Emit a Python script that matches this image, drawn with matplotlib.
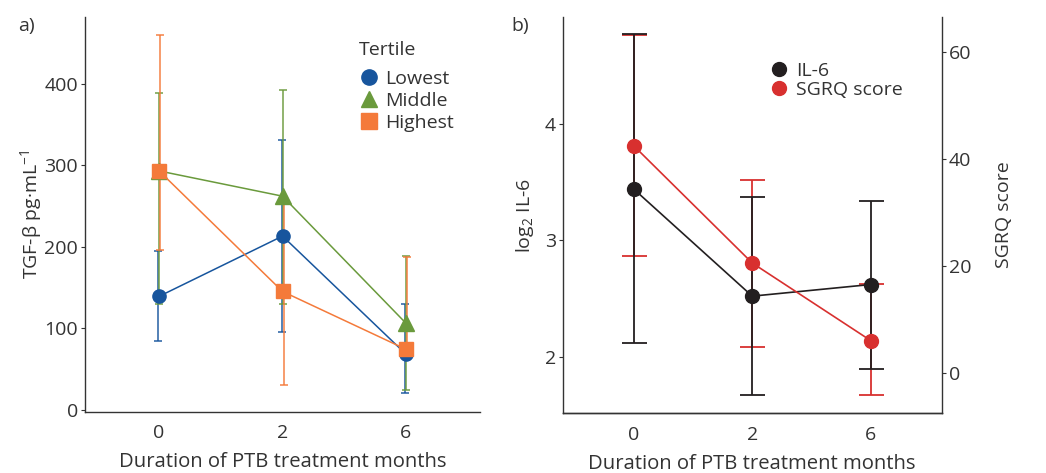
import matplotlib
matplotlib.use("Agg")
import matplotlib.pyplot as plt
import numpy as np
from matplotlib.lines import Line2D

plt.rcParams['font.family'] = ['Open Sans', 'DejaVu Sans']
plt.rcParams['mathtext.fontset'] = 'custom'
plt.rcParams['mathtext.rm'] = 'Open Sans'
plt.rcParams['mathtext.default'] = 'regular'

# ---------------- data ----------------
months = ["0", "2", "6"]

# Panel a: TGF-beta by tertile (mean, lower bound, upper bound)
lowest_mean = [139, 213, 68]
lowest_low = [84, 95, 20]
lowest_high = [195, 331, 130]

middle_mean = [293, 262, 106]
middle_low = [129, 130, 24]
middle_high = [389, 393, 188]

highest_mean = [293, 145, 74]
highest_low = [196, 30, 74]
highest_high = [460, 260, 187]

# Panel b: IL-6 (log2) and SGRQ score (mean, lower, upper)
il6_mean = [3.44, 2.52, 2.62]
il6_low = [2.12, 1.67, 1.89]
il6_high = [4.77, 3.37, 3.34]

sgrq_mean = [42.5, 20.6, 6.1]
sgrq_low = [22.0, 4.9, -4.1]
sgrq_high = [63.3, 36.1, 16.6]

# ---------------- styling ----------------
C_BLUE = "#17559d"
C_GREEN = "#6a9a3c"
C_ORANGE = "#f47a3a"
C_BLACK = "#231f20"
C_RED = "#d8302f"
AX_COL = "#333333"
FS = 14

fig = plt.figure(figsize=(10.46, 4.73), dpi=100)
axa = fig.add_axes([0.0813, 0.129, 0.3776, 0.835])
axb = fig.add_axes([0.538, 0.1262, 0.3623, 0.838])
ax2 = axb.twinx()

x = np.arange(len(months))


def style_axis(ax, right=False):
    ax.spines['top'].set_visible(False)
    if not right:
        ax.spines['right'].set_visible(False)
    for s in ax.spines.values():
        s.set_color(AX_COL)
        s.set_linewidth(1.0)
    ax.tick_params(direction='out', length=3, width=0.8, color=AX_COL,
                   labelcolor=AX_COL, labelsize=FS, pad=2)


# ---------- panel a ----------
series_a = [
    ("Lowest", lowest_mean, lowest_low, lowest_high, C_BLUE, 'o', 9.5, -0.008),
    ("Middle", middle_mean, middle_low, middle_high, C_GREEN, '^', 11, 0.0),
    ("Highest", highest_mean, highest_low, highest_high, C_ORANGE, 's', 9.5, 0.008),
]
for i, (name, m, lo, hi, col, mk, ms, dx) in enumerate(series_a):
    m = np.array(m, float)
    yerr = [m - np.array(lo, float), np.array(hi, float) - m]
    axa.errorbar(x + dx, m, yerr=yerr, fmt='none', ecolor=col, alpha=0.8,
                 elinewidth=1.3, capsize=3, capthick=1.3, zorder=1 + i * 0.1)
    axa.plot(x, m, color=col, lw=1.1, marker=mk, ms=ms, mec=col, mfc=col,
             label=name, zorder=3 + i * 0.1)

axa.set_xlim(-0.6, 2.6)
axa.set_ylim(-3, 482)
axa.set_xticks(x)
axa.set_xticklabels(months)
axa.set_yticks([0, 100, 200, 300, 400])
style_axis(axa)
axa.tick_params(axis='x', length=0, pad=9)
axa.set_xlabel("Duration of PTB treatment months", fontsize=FS + 0.6,
               color=AX_COL, labelpad=7)
axa.set_ylabel(r"TGF-β pg·mL$^{-1}$", fontsize=FS, color=AX_COL, labelpad=0)
handles_a = [Line2D([], [], ls='none', marker='o', ms=11, color=C_BLUE),
             Line2D([], [], ls='none', marker='^', ms=12, color=C_GREEN),
             Line2D([], [], ls='none', marker='s', ms=11, color=C_ORANGE)]
leg = axa.legend(handles_a, ["Lowest", "Middle", "Highest"], title="Tertile",
                 loc='upper left', bbox_to_anchor=(0.66, 0.975),
                 frameon=False, fontsize=FS, title_fontsize=FS,
                 labelspacing=0.22, handlelength=1.0, handletextpad=0.35,
                 borderpad=0.2, alignment='left')
leg._legend_box.sep = 8
for t in leg.get_texts():
    t.set_color(AX_COL)
leg.get_title().set_color(AX_COL)
fig.text(0.017, 0.945, "a)", fontsize=FS, color=AX_COL, va='center')

# ---------- panel b ----------
axb.set_zorder(ax2.get_zorder() + 1)
axb.patch.set_visible(False)

il6_m = np.array(il6_mean, float)
sg_m = np.array(sgrq_mean, float)

# red error bars (SGRQ scale)
axb.errorbar(x, sg_m, yerr=[sg_m - np.array(sgrq_low), np.array(sgrq_high) - sg_m],
             fmt='none', ecolor=C_RED, elinewidth=1.3, capsize=9, capthick=1.3,
             transform=ax2.transData, zorder=1)
# black error bars (IL-6 scale)
axb.errorbar(x, il6_m, yerr=[il6_m - np.array(il6_low), np.array(il6_high) - il6_m],
             fmt='none', ecolor=C_BLACK, elinewidth=1.3, capsize=9, capthick=1.3,
             zorder=2)
axb.plot(x, il6_m, color=C_BLACK, lw=1.2, marker='o', ms=10, label="IL-6", zorder=3)
axb.plot(x, sg_m, color=C_RED, lw=1.2, marker='o', ms=10, label="SGRQ score",
         transform=ax2.transData, zorder=4)

axb.set_xlim(-0.6, 2.6)
axb.set_ylim(1.513, 4.92)
ax2.set_ylim(-7.5, 66.6)
axb.set_xticks(x)
axb.set_xticklabels(months)
axb.set_yticks([2, 3, 4])
ax2.set_yticks([0, 20, 40, 60])
style_axis(axb)
style_axis(ax2, right=True)
ax2.spines['left'].set_visible(False)
axb.tick_params(axis='x', length=0, pad=9)
axb.set_xlabel("Duration of PTB treatment months", fontsize=FS + 0.6,
               color=AX_COL, labelpad=7)
axb.set_ylabel(r"log$_2$ IL-6", fontsize=FS, color=AX_COL, labelpad=6)
ax2.set_ylabel("SGRQ score", fontsize=FS, color=AX_COL, labelpad=17)

handles = [Line2D([], [], ls='none', marker='o', ms=10, color=C_BLACK),
           Line2D([], [], ls='none', marker='o', ms=10, color=C_RED)]
legb = axb.legend(handles, ["IL-6", "SGRQ score"], loc='upper left',
                  bbox_to_anchor=(0.51, 0.92), frameon=False, fontsize=FS,
                  labelspacing=0.05, handlelength=1.0, handletextpad=0.35,
                  borderpad=0.2)
for t in legb.get_texts():
    t.set_color(AX_COL)
fig.text(0.489, 0.945, "b)", fontsize=FS, color=AX_COL, va='center')

fig.savefig("out.png", dpi=100)
